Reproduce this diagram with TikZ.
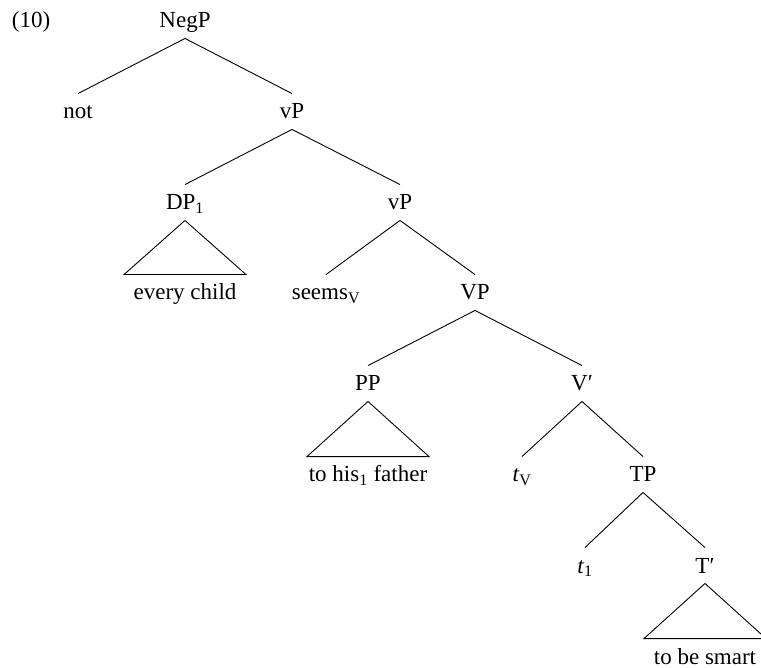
\documentclass[tikz,border=0pt]{standalone}
\usepackage{fontspec}
\setmainfont{Liberation Serif}

\begin{document}
\begin{tikzpicture}[x=1pt,y=-1pt,line width=0.9pt,
    lbl/.style={inner sep=0pt,text height=25pt,text depth=10pt,anchor=base,
      font=\fontsize{23}{28}\selectfont}]
        \useasboundingbox (0,0) rectangle (761,668);
        \node[lbl] (exno) at (31,28) {(10)};
        % spine of the tree
        \node[lbl] (negp) at (185,28) {NegP};
        \node[lbl] (not) at (78,119) {not};
        \node[lbl] (vpa) at (292,119) {vP};
        \node[lbl] (dp) at (185,210) {DP\textsubscript{1}};
        \node[lbl] (vpb) at (400,210) {vP};
        \node[lbl] (child) at (185,300) {every child};
        \node[lbl] (seems) at (326,300) {seems\textsubscript{V}};
        \node[lbl] (vp) at (475,300) {VP};
        \node[lbl] (pp) at (368,391) {PP};
        \node[lbl] (vbar) at (582,391) {V′};
        \node[lbl] (father) at (368,482) {to his\textsubscript{1} father};
        \node[lbl] (tv) at (522,482) {\textit{t}\textsubscript{V}};
        \node[lbl] (tp) at (643,482) {TP};
        \node[lbl] (tone) at (585,573) {\textit{t}\textsubscript{1}};
        \node[lbl] (tbar) at (705,573) {T′};
        \node[lbl] (smart) at (705,664) {to be smart};
        % branches
        \foreach \a/\b in {negp/not, negp/vpa, vpa/dp, vpa/vpb, vpb/seems, vpb/vp,
            vp/pp, vp/vbar, vbar/tv, vbar/tp, tp/tone, tp/tbar}
          \draw (\a.south) -- (\b.north);
        % roofs
        \foreach \a/\b in {dp/child, pp/father, tbar/smart}
          \draw (\a.south) -- ([xshift=-61pt]\b.north) -- ([xshift=61pt]\b.north) -- cycle;
      \end{tikzpicture}
\end{document}
